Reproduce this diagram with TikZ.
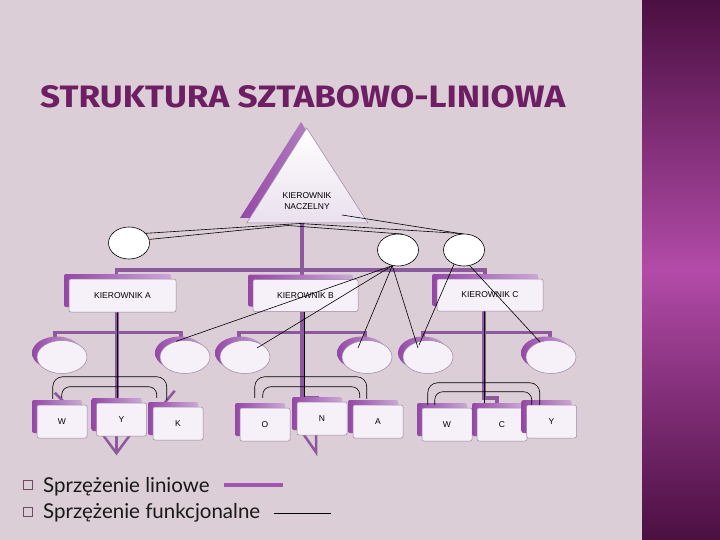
\documentclass[tikz,border=0pt]{standalone}
\usepackage{fontspec}
\usepackage{graphicx}
\setmainfont{Liberation Sans}
\newfontfamily\titlefont{Fira Sans}
\newfontfamily\legendfont{Lato}
\usetikzlibrary{shapes.geometric,calc}
\pgfdeclarelayer{back}
\pgfdeclarelayer{under}
\pgfsetlayers{back,under,main}
\definecolor{bgc}{HTML}{DBCED6}
\definecolor{titlec}{HTML}{6E1F63}
\definecolor{linec}{HTML}{8C5A9C}
\definecolor{boxfill}{HTML}{F6F0F8}
\definecolor{boxedge}{HTML}{9C84A8}
\definecolor{shadowdark}{HTML}{9447A6}
\definecolor{shadowlight}{HTML}{CBA8D6}
\definecolor{stripdark}{HTML}{4B0F42}
\definecolor{stripmid}{HTML}{B24BA8}
\definecolor{legendline}{HTML}{A454B2}
\definecolor{bulletc}{HTML}{6E4A66}
\definecolor{trifill}{HTML}{EAE0EE}
\tikzset{
 lin/.style={draw=linec, line width=3.5pt},
 fun/.style={draw=black, line width=0.6pt},
 orgbox/.style={rectangle, draw=boxedge, line width=0.5pt, fill=boxfill, rounded corners=2pt, inner sep=0pt, font=\fontsize{8.5}{10}\selectfont},
 staff/.style={ellipse, draw=boxedge, line width=0.5pt, fill=boxfill, minimum width=50pt, minimum height=33pt, inner sep=0pt},
 shad/.style={left color=shadowdark, right color=shadowlight, draw=none},
 circ/.style={ellipse, draw=black, fill=white, line width=0.6pt, minimum width=41pt, minimum height=32pt, inner sep=0pt},
 legtext/.style={anchor=base west, inner sep=0pt, text=black!90, font=\legendfont\fontsize{20.5}{24}\selectfont},
}
\newcommand\shbox[6]{%
  \shade[shad, rounded corners=2pt] (#2-#4/2-5,#3-#5/2-5) rectangle ++(#4,#5);
  \node[orgbox, minimum width=#4pt, minimum height=#5pt] (#1) at (#2,#3) {#6};}
\newcommand\shell[3]{%
  \shade[shad] (#2-5,#3-4) ellipse [x radius=25pt, y radius=16.5pt];
  \node[staff] (#1) at (#2,#3) {};}
\begin{document}
\begin{tikzpicture}[x=1pt,y=-1pt]
\useasboundingbox (0,0) rectangle (720,540);
\begin{pgfonlayer}{back}
\fill[bgc] (0,0) rectangle (642,540);
\shade[top color=stripdark, bottom color=stripdark, middle color=stripmid] (642,0) rectangle (720,540);
\end{pgfonlayer}
% title
\node[anchor=base west, inner sep=0pt, text=titlec] (title) at (40,108)
  {\resizebox{525pt}{22pt}{\titlefont\bfseries STRUKTURA SZTABOWO-LINIOWA}};
% triangle
\shade[left color=shadowdark, right color=shadowlight] (301,122) -- (240,218) -- (362,218) -- cycle;
\shade[top color=white, bottom color=trifill, draw=boxedge, line width=0.5pt] (306.7,128) -- (246.7,223) -- (368,223) -- cycle;
\node[align=center, inner sep=0pt, font=\fontsize{8.5}{11}\selectfont] (tri) at (307,201) {KIEROWNIK\\NACZELNY};
\coordinate (tribase) at (302,223);
\coordinate (tin) at (342,215);
% circles
\node[circ] (lc) at (129,243) {};
\node[circ] (cc1) at (398,250) {};
\node[circ] (cc2) at (464,250) {};
% manager boxes
\shbox{kA}{122.5}{295.5}{107}{33}{KIEROWNIK A}
\shbox{kB}{305.5}{295.5}{105}{32}{KIEROWNIK B}
\shbox{kC}{490}{295}{106}{32}{KIEROWNIK C}
% staff ellipses
\shell{e1}{62}{357}
\shell{e2}{185}{357}
\shell{e3}{245}{357}
\shell{e4}{367}{357}
\shell{e5}{428}{357}
\shell{e6}{551}{357}
% bottom boxes
\shbox{w1}{62}{421.5}{50}{33}{W}
\shbox{y1}{121.5}{419.5}{50}{33}{Y}
\shbox{k1}{178}{423.5}{50}{33}{K}
\shbox{o1}{265}{424.5}{50}{33}{O}
\shbox{n1}{322}{418.5}{50}{33}{N}
\shbox{a1}{378}{421.5}{50}{33}{A}
\shbox{w2}{447}{424.5}{50}{33}{W}
\shbox{cb}{502}{424.5}{50}{33}{C}
\shbox{y2}{551.5}{421.5}{50}{33}{Y}
% line connectors (under)
\coordinate (sa) at (117,0);
\coordinate (sb) at (302,0);
\coordinate (sbk) at (304,0);
\coordinate (sc) at (484,0);
\coordinate (jb) at (317,398);
\coordinate (jc) at (497,398);
\begin{pgfonlayer}{under}
\draw[lin] ($(kA.north)+(-6,0)$) -- ++(0,-9) -| ($(kC.north)+(-5,0)$);
\draw[lin] (tribase) -- (tribase |- kB.north);
\draw[lin] ($(e1.north)+(-7,0)$) -- ++(0,-8) -| ($(e2.north)+(-4,0)$);
\draw[lin] ($(e3.north)+(-6,0)$) -- ++(0,-8) -| ($(e4.north)+(-2,0)$);
\draw[lin] ($(e5.north)+(-5,0)$) -- ++(0,-8) -| ($(e6.north)+(-1,0)$);
\draw[lin] (kA.south -| sa) -- (y1.north -| sa);
\draw[lin] (kB.south -| sb) -- (sb |- jb) -- (jb) -- (jb |- n1.north);
\draw[lin] (kC.south -| sc) -- (sc |- jc) -- (jc) -- (jc |- cb.north);
\draw[fun, line width=0.8pt] (kA.south -| sa) -- (y1.north -| sa);
\draw[fun, line width=0.8pt] (kB.south -| sbk) -- (n1.north -| sbk);
\draw[fun, line width=0.8pt] (kC.south -| sc) -- (cb.north -| sc);
\draw[linec, line width=2.5pt] ($(y1.south)+(-22,-6)$) -- ($(y1.south)+(-5,17)$) -- ($(y1.south)+(12,-6)$);
\draw[linec, line width=2.5pt] ($(y1.south)+(-5,-6)$) -- ($(y1.south)+(-5,17)$);
\draw[linec, line width=2.5pt] ($(n1.south)+(-22,-6)$) -- ($(n1.south)+(-6,17)$) -- ($(n1.south)+(-6,-6)$);
\draw[linec, line width=2.5pt] ($(w1.north west)+(18,-12)$) -- ($(w1.north west)+(26,-4)$);
\draw[linec, line width=2.5pt] ($(k1.north west)+(22,-16)$) -- ($(k1.north west)+(12,-4)$);
\end{pgfonlayer}
% functional connectors: triangle to circles
\draw[fun] (lc.30) -- (300,223.5) -- (cc2.92);
\draw[fun] (lc.10) -- (288,225.5) -- (cc1.75);
\draw[fun] (tin) -- (cc2.98);
% circles to staff
\draw[fun] (cc1.250) -- (e2.120);
\draw[fun] (cc1.250) -- ($(e3)+(12,-9)$);
\draw[fun] (cc1.250) -- ($(e4)+(-9,-9)$);
\draw[fun] (cc1.250) -- ($(e5)+(-10,-9)$);
\draw[fun] (cc2.235) -- ($(e5)+(-9,-12)$);
\draw[fun] (cc2.290) -- ($(e6)+(-11,-15)$);
% functional arcs between bottom boxes
\draw[fun, rounded corners=10pt] ($(w1.north west)+(16,-6)$) |- ($(k1.north west)+(14,-30)$) -- ($(k1.north west)+(14,-7)$);
\draw[fun, rounded corners=8pt] ($(w1.north west)+(25,-7)$) |- ($(k1.north west)+(4,-20)$) -- ($(k1.north west)+(4,-9)$);
\draw[fun, rounded corners=10pt] ($(o1.north west)+(15,-10)$) |- ($(a1.north west)+(14,-28)$) -- ($(a1.north west)+(14,-6)$);
\draw[fun, rounded corners=8pt] ($(o1.north west)+(23,-10)$) |- ($(a1.north west)+(7,-18)$) -- ($(a1.north west)+(7,-7)$);
\draw[fun, rounded corners=10pt] ($(w2.north west)+(6,-3)$) |- ($(y2.north west)+(13.5,-22)$) -- ($(y2.north west)+(13.5,0)$);
\draw[fun, rounded corners=8pt] ($(w2.north west)+(13,-3)$) |- ($(y2.north west)+(5.5,-13)$) -- ($(y2.north west)+(5.5,0)$);
% legend
\draw[bulletc, line width=0.6pt] (23,480) rectangle (32,489);
\draw[bulletc, line width=0.6pt] (23,507) rectangle (32,516);
\node[legtext] (leg1) at (43,492) {Sprzężenie liniowe};
\node[legtext] (leg2) at (43,518) {Sprzężenie funkcjonalne};
\draw[legendline, line width=4pt] ($(leg1.base east)+(14,-7)$) -- ++(59,0);
\draw[black, line width=0.7pt] ($(leg2.base east)+(14,-5)$) -- ++(57,0);
\end{tikzpicture}
\end{document}
